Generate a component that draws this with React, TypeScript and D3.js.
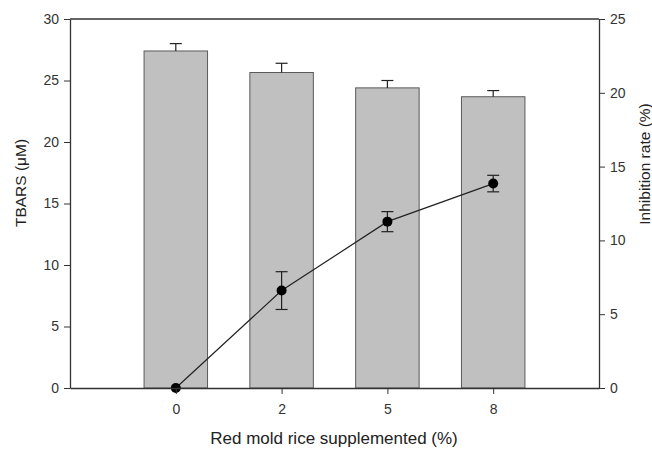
import { useEffect, useRef } from "react";
import * as d3 from "d3";

const categories = ["0", "2", "5", "8"];
const tbars = [27.4, 25.65, 24.4, 23.68];
const tbarsErr = [0.6, 0.75, 0.6, 0.5];
const inhibition = [0, 6.6, 11.27, 13.85];
const inhibitionErr = [0, 1.28, 0.68, 0.56];
const leftTicks = [0, 5, 10, 15, 20, 25, 30];
const rightTicks = [0, 5, 10, 15, 20, 25];

export default function App() {
  const ref = useRef<SVGSVGElement>(null);

  useEffect(() => {
    const svg = d3.select(ref.current);
    svg.selectAll("*").remove();

    const left = 70;
    const right = 599;
    const top = 19;
    const bottom = 388;
    const font = "Liberation Sans, Arial, sans-serif";
    const axisColor = "#333";

    // x positions: one empty slot on each side of the four groups
    const x = d3.scalePoint<string>().domain(categories).range([left, right]).padding(1);
    const barWidth = x.step() * 0.6;

    const yL = d3.scaleLinear().domain([0, 30]).range([bottom, top]);
    const yR = d3.scaleLinear().domain([0, 25]).range([bottom, top]);

    // bars
    svg
      .append("g")
      .selectAll("rect")
      .data(tbars)
      .enter()
      .append("rect")
      .attr("x", (d, i) => x(categories[i])! - barWidth / 2)
      .attr("y", (d) => yL(d))
      .attr("width", barWidth)
      .attr("height", (d) => bottom - yL(d))
      .attr("fill", "#c0c0c0")
      .attr("stroke", "#5a5a5a")
      .attr("stroke-width", 1);

    // bar error bars (upper only)
    const barErr = svg.append("g").attr("stroke", "#222").attr("stroke-width", 1.2);
    tbars.forEach((v, i) => {
      const cx = x(categories[i])!;
      barErr.append("line").attr("x1", cx).attr("x2", cx).attr("y1", yL(v)).attr("y2", yL(v + tbarsErr[i]));
      barErr
        .append("line")
        .attr("x1", cx - 6)
        .attr("x2", cx + 6)
        .attr("y1", yL(v + tbarsErr[i]))
        .attr("y2", yL(v + tbarsErr[i]));
    });

    // line series
    const line = d3
      .line<number>()
      .x((d, i) => x(categories[i])!)
      .y((d) => yR(d));
    svg
      .append("path")
      .datum(inhibition)
      .attr("d", line)
      .attr("fill", "none")
      .attr("stroke", "#222")
      .attr("stroke-width", 1.2);

    const lineErr = svg.append("g").attr("stroke", "#222").attr("stroke-width", 1.2);
    inhibition.forEach((v, i) => {
      if (!inhibitionErr[i]) return;
      const cx = x(categories[i])!;
      const lo = yR(v - inhibitionErr[i]);
      const hi = yR(v + inhibitionErr[i]);
      lineErr.append("line").attr("x1", cx).attr("x2", cx).attr("y1", lo).attr("y2", hi);
      lineErr.append("line").attr("x1", cx - 6).attr("x2", cx + 6).attr("y1", lo).attr("y2", lo);
      lineErr.append("line").attr("x1", cx - 6).attr("x2", cx + 6).attr("y1", hi).attr("y2", hi);
    });

    svg
      .append("g")
      .selectAll("circle")
      .data(inhibition)
      .enter()
      .append("circle")
      .attr("cx", (d, i) => x(categories[i])!)
      .attr("cy", (d) => yR(d))
      .attr("r", 5)
      .attr("fill", "#000");

    // axes
    const styleAxis = (g: d3.Selection<SVGGElement, unknown, null, undefined>) => {
      g.select(".domain").attr("stroke", axisColor).attr("stroke-width", 1.3);
      g.selectAll(".tick line").attr("stroke", axisColor);
      g.selectAll(".tick text").attr("fill", "#333").attr("font-size", 14).attr("font-family", font);
    };

    svg
      .append("g")
      .attr("transform", `translate(${left},0)`)
      .call(d3.axisLeft(yL).tickValues(leftTicks).tickSize(6).tickSizeOuter(0).tickPadding(5))
      .call(styleAxis);

    svg
      .append("g")
      .attr("transform", `translate(${right},0)`)
      .call(d3.axisRight(yR).tickValues(rightTicks).tickSize(6).tickSizeOuter(0).tickPadding(5))
      .call(styleAxis);

    svg
      .append("g")
      .attr("transform", `translate(0,${bottom})`)
      .call(d3.axisBottom(x).tickSize(6).tickSizeOuter(0).tickPadding(10))
      .call(styleAxis);

    svg
      .append("line")
      .attr("x1", left)
      .attr("x2", right)
      .attr("y1", top)
      .attr("y2", top)
      .attr("stroke", axisColor)
      .attr("stroke-width", 1.3);

    // titles
    svg
      .append("text")
      .attr("transform", `translate(26,183) rotate(-90)`)
      .attr("text-anchor", "middle")
      .attr("font-family", font)
      .attr("font-size", 15.5)
      .attr("fill", "#222")
      .text("TBARS (\u03bcM)");

    svg
      .append("text")
      .attr("transform", `translate(650,164) rotate(-90)`)
      .attr("text-anchor", "middle")
      .attr("font-family", font)
      .attr("font-size", 15.5)
      .attr("fill", "#222")
      .text("Inhibition rate (%)");

    svg
      .append("text")
      .attr("x", 334)
      .attr("y", 444)
      .attr("text-anchor", "middle")
      .attr("font-family", font)
      .attr("font-size", 17)
      .attr("fill", "#222")
      .text("Red mold rice supplemented (%)");
  }, []);

  return (
    <svg
      ref={ref}
      width={652}
      height={449}
      style={{ position: "absolute", left: 0, top: 0, background: "#fff" }}
    />
  );
}
